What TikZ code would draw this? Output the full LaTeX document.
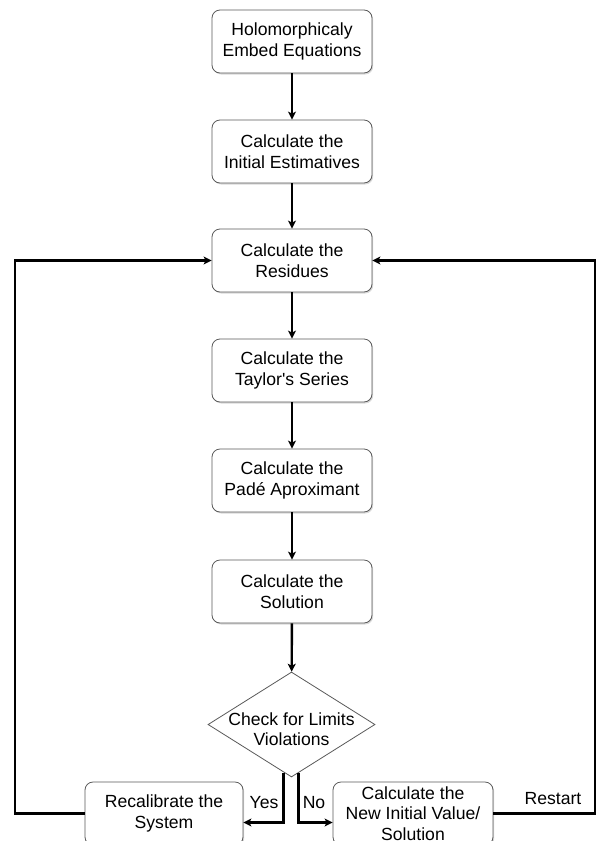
\documentclass[tikz,border=0pt]{standalone}
\usepackage{fontspec}
\setmainfont{Liberation Sans}
\usetikzlibrary{shapes.geometric,arrows.meta,shadows}
\begin{document}
\begin{tikzpicture}[x=1pt,y=-1pt,
 stepbox/.style={draw=black!65,line width=.8pt,rounded corners=8pt,fill=white,
  minimum width=160pt,minimum height=63pt,align=center,inner sep=1pt,
  font=\fontsize{17.6}{20.5}\selectfont,
  drop shadow={shadow xshift=1.2pt,shadow yshift=-1.5pt,opacity=.3}},
 checkbox/.style={diamond,draw=black!65,line width=.8pt,fill=white,inner sep=0pt,
  minimum width=167pt,minimum height=105pt},
 conn/.style={line width=2.4pt,-{Stealth[length=8pt,width=8pt,inset=2pt]}},
 lbl/.style={font=\fontsize{17.6}{20.5}\selectfont}]
 \useasboundingbox (0,0) rectangle (596,841);
 \node[stepbox] (embed) at (292,41.5) {Holomorphicaly\\Embed Equations};
 \node[stepbox] (init) at (292,151.5) {Calculate the\\Initial Estimatives};
 \node[stepbox] (resid) at (292,260.5) {Calculate the\\Residues};
 \node[stepbox] (taylor) at (292,370.5) {Calculate the\\Taylor\textquotesingle s Series};
 \node[stepbox] (pade) at (292,480.5) {Calculate the\\Padé Aproximant};
 \node[stepbox] (sol) at (292,591.5) {Calculate the\\Solution};
 \node[checkbox,label={[lbl,align=center,yshift=-4.5pt]center:Check for Limits\\Violations}] (limits) at (291.5,724.5) {};
 \node[stepbox,minimum width=158pt] (recal) at (164,813.5) {Recalibrate the\\System};
 \node[stepbox] (newval) at (413,813.5) {Calculate the\\New Initial Value/\\Solution};
 \foreach \a/\b in {embed/init,init/resid,resid/taylor,taylor/pade,pade/sol,sol/limits}
  \draw[conn] (\a) -- (\b);
 \draw[conn] ([xshift=-8pt,yshift=4pt]limits.south) |- ([yshift=-9pt]recal.east);
 \draw[conn] ([xshift=7pt,yshift=4pt]limits.south) |- ([yshift=-9pt]newval.west);
 \node[lbl] (yes) at (264,803) {Yes};
 \node[lbl] (no) at (314,803) {No};
 \coordinate (lcorner) at (15,813.5);
 \coordinate (rcorner) at (594.8,813.5);
 \draw[conn] (recal.west) -- (lcorner) |- (resid.west);
 \draw[conn] (newval.east) -- (rcorner) |- (resid.east);
 \node[lbl] (restart) at (553,799) {Restart};
\end{tikzpicture}
\end{document}
